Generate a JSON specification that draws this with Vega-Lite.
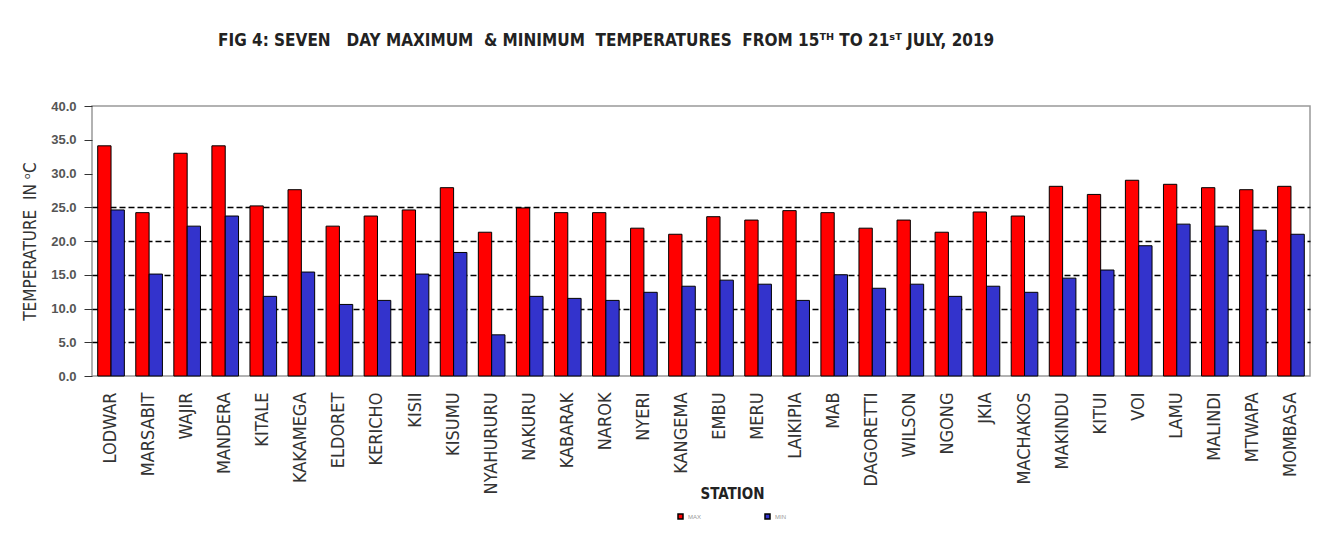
{
  "$schema": "https://vega.github.io/schema/vega-lite/v6.json",
  "autosize": "none",
  "width": 1218,
  "height": 270,
  "padding": {"left": 92, "top": 106, "right": 34, "bottom": 163},
  "background": "white",
  "title": {
    "text": "FIG 4: SEVEN\u00a0\u00a0\u00a0DAY MAXIMUM\u00a0\u00a0& MINIMUM\u00a0\u00a0TEMPERATURES\u00a0\u00a0FROM 15ᵀᴴ TO 21ˢᵀ JULY, 2019",
    "anchor": "start",
    "frame": "group",
    "dx": 126,
    "offset": 50,
    "font": "DejaVu Sans Condensed",
    "fontSize": 17,
    "fontWeight": "bold",
    "color": "#222222"
  },
  "config": {
    "view": {"stroke": "#999999", "strokeWidth": 1.5},
    "font": "Liberation Sans"
  },
  "data": {
    "values": [
      {"station": "LODWAR", "type": "MAX", "temp": 34.1},
      {"station": "LODWAR", "type": "MIN", "temp": 24.6},
      {"station": "MARSABIT", "type": "MAX", "temp": 24.2},
      {"station": "MARSABIT", "type": "MIN", "temp": 15.1},
      {"station": "WAJIR", "type": "MAX", "temp": 33.0},
      {"station": "WAJIR", "type": "MIN", "temp": 22.2},
      {"station": "MANDERA", "type": "MAX", "temp": 34.1},
      {"station": "MANDERA", "type": "MIN", "temp": 23.7},
      {"station": "KITALE", "type": "MAX", "temp": 25.2},
      {"station": "KITALE", "type": "MIN", "temp": 11.8},
      {"station": "KAKAMEGA", "type": "MAX", "temp": 27.6},
      {"station": "KAKAMEGA", "type": "MIN", "temp": 15.4},
      {"station": "ELDORET", "type": "MAX", "temp": 22.2},
      {"station": "ELDORET", "type": "MIN", "temp": 10.6},
      {"station": "KERICHO", "type": "MAX", "temp": 23.7},
      {"station": "KERICHO", "type": "MIN", "temp": 11.2},
      {"station": "KISII", "type": "MAX", "temp": 24.6},
      {"station": "KISII", "type": "MIN", "temp": 15.1},
      {"station": "KISUMU", "type": "MAX", "temp": 27.9},
      {"station": "KISUMU", "type": "MIN", "temp": 18.3},
      {"station": "NYAHURURU", "type": "MAX", "temp": 21.3},
      {"station": "NYAHURURU", "type": "MIN", "temp": 6.1},
      {"station": "NAKURU", "type": "MAX", "temp": 24.9},
      {"station": "NAKURU", "type": "MIN", "temp": 11.8},
      {"station": "KABARAK", "type": "MAX", "temp": 24.2},
      {"station": "KABARAK", "type": "MIN", "temp": 11.5},
      {"station": "NAROK", "type": "MAX", "temp": 24.2},
      {"station": "NAROK", "type": "MIN", "temp": 11.2},
      {"station": "NYERI", "type": "MAX", "temp": 21.9},
      {"station": "NYERI", "type": "MIN", "temp": 12.4},
      {"station": "KANGEMA", "type": "MAX", "temp": 21.0},
      {"station": "KANGEMA", "type": "MIN", "temp": 13.3},
      {"station": "EMBU", "type": "MAX", "temp": 23.6},
      {"station": "EMBU", "type": "MIN", "temp": 14.2},
      {"station": "MERU", "type": "MAX", "temp": 23.1},
      {"station": "MERU", "type": "MIN", "temp": 13.6},
      {"station": "LAIKIPIA", "type": "MAX", "temp": 24.5},
      {"station": "LAIKIPIA", "type": "MIN", "temp": 11.2},
      {"station": "MAB", "type": "MAX", "temp": 24.2},
      {"station": "MAB", "type": "MIN", "temp": 15.0},
      {"station": "DAGORETTI", "type": "MAX", "temp": 21.9},
      {"station": "DAGORETTI", "type": "MIN", "temp": 13.0},
      {"station": "WILSON", "type": "MAX", "temp": 23.1},
      {"station": "WILSON", "type": "MIN", "temp": 13.6},
      {"station": "NGONG", "type": "MAX", "temp": 21.3},
      {"station": "NGONG", "type": "MIN", "temp": 11.8},
      {"station": "JKIA", "type": "MAX", "temp": 24.3},
      {"station": "JKIA", "type": "MIN", "temp": 13.3},
      {"station": "MACHAKOS", "type": "MAX", "temp": 23.7},
      {"station": "MACHAKOS", "type": "MIN", "temp": 12.4},
      {"station": "MAKINDU", "type": "MAX", "temp": 28.1},
      {"station": "MAKINDU", "type": "MIN", "temp": 14.5},
      {"station": "KITUI", "type": "MAX", "temp": 26.9},
      {"station": "KITUI", "type": "MIN", "temp": 15.7},
      {"station": "VOI", "type": "MAX", "temp": 29.0},
      {"station": "VOI", "type": "MIN", "temp": 19.3},
      {"station": "LAMU", "type": "MAX", "temp": 28.4},
      {"station": "LAMU", "type": "MIN", "temp": 22.5},
      {"station": "MALINDI", "type": "MAX", "temp": 27.9},
      {"station": "MALINDI", "type": "MIN", "temp": 22.2},
      {"station": "MTWAPA", "type": "MAX", "temp": 27.6},
      {"station": "MTWAPA", "type": "MIN", "temp": 21.6},
      {"station": "MOMBASA", "type": "MAX", "temp": 28.1},
      {"station": "MOMBASA", "type": "MIN", "temp": 21.0}
    ]
  },
  "mark": {"type": "bar", "stroke": "black", "strokeWidth": 1},
  "encoding": {
    "x": {
      "field": "station",
      "type": "nominal",
      "sort": null,
      "scale": {"paddingInner": 0.3, "paddingOuter": 0.15},
      "axis": {
        "title": "STATION",
        "titleFont": "DejaVu Sans Condensed",
        "titleFontSize": 15,
        "titleFontWeight": "bold",
        "titleColor": "#222222",
        "titleY": 110,
        "titleX": 640,
        "labelAngle": -90,
        "labelAlign": "right",
        "labelBaseline": "middle",
        "labelFont": "DejaVu Sans Condensed",
        "labelFontSize": 18,
        "labelColor": "#333333",
        "labelPadding": 16,
        "labelOverlap": false,
        "ticks": false,
        "domain": false,
        "grid": false
      }
    },
    "xOffset": {"field": "type", "type": "nominal", "sort": ["MAX", "MIN"]},
    "y": {
      "field": "temp",
      "type": "quantitative",
      "scale": {"domain": [0, 40], "nice": false},
      "axis": {
        "title": "TEMPERATURE\u00a0\u00a0IN ᵒC",
        "titleFont": "DejaVu Sans Condensed",
        "titleFontSize": 17,
        "titleFontWeight": "normal",
        "titleColor": "#333333",
        "titlePadding": 11,
        "values": [0, 5, 10, 15, 20, 25, 30, 35, 40],
        "format": ".1f",
        "labelFontSize": 13,
        "labelColor": "#555555",
        "labelFontWeight": "bold",
        "tickSize": 8,
        "tickColor": "#333333",
        "labelPadding": 8,
        "domain": false,
        "grid": true,
        "gridColor": "black",
        "gridWidth": 1.5,
        "gridDash": [6, 3],
        "gridOpacity": {"condition": {"test": "datum.value >= 30 || datum.value == 0", "value": 0}, "value": 1}
      }
    },
    "color": {
      "field": "type",
      "type": "nominal",
      "scale": {"domain": ["MAX", "MIN"], "range": ["#ff0000", "#3333cc"]},
      "legend": {
        "orient": "none",
        "legendX": 585,
        "legendY": 407,
        "direction": "horizontal",
        "title": null,
        "symbolType": "square",
        "symbolSize": 25,
        "symbolStrokeColor": "black",
        "labelFontSize": 6,
        "labelColor": "#999999",
        "columnPadding": 60
      }
    }
  }
}
